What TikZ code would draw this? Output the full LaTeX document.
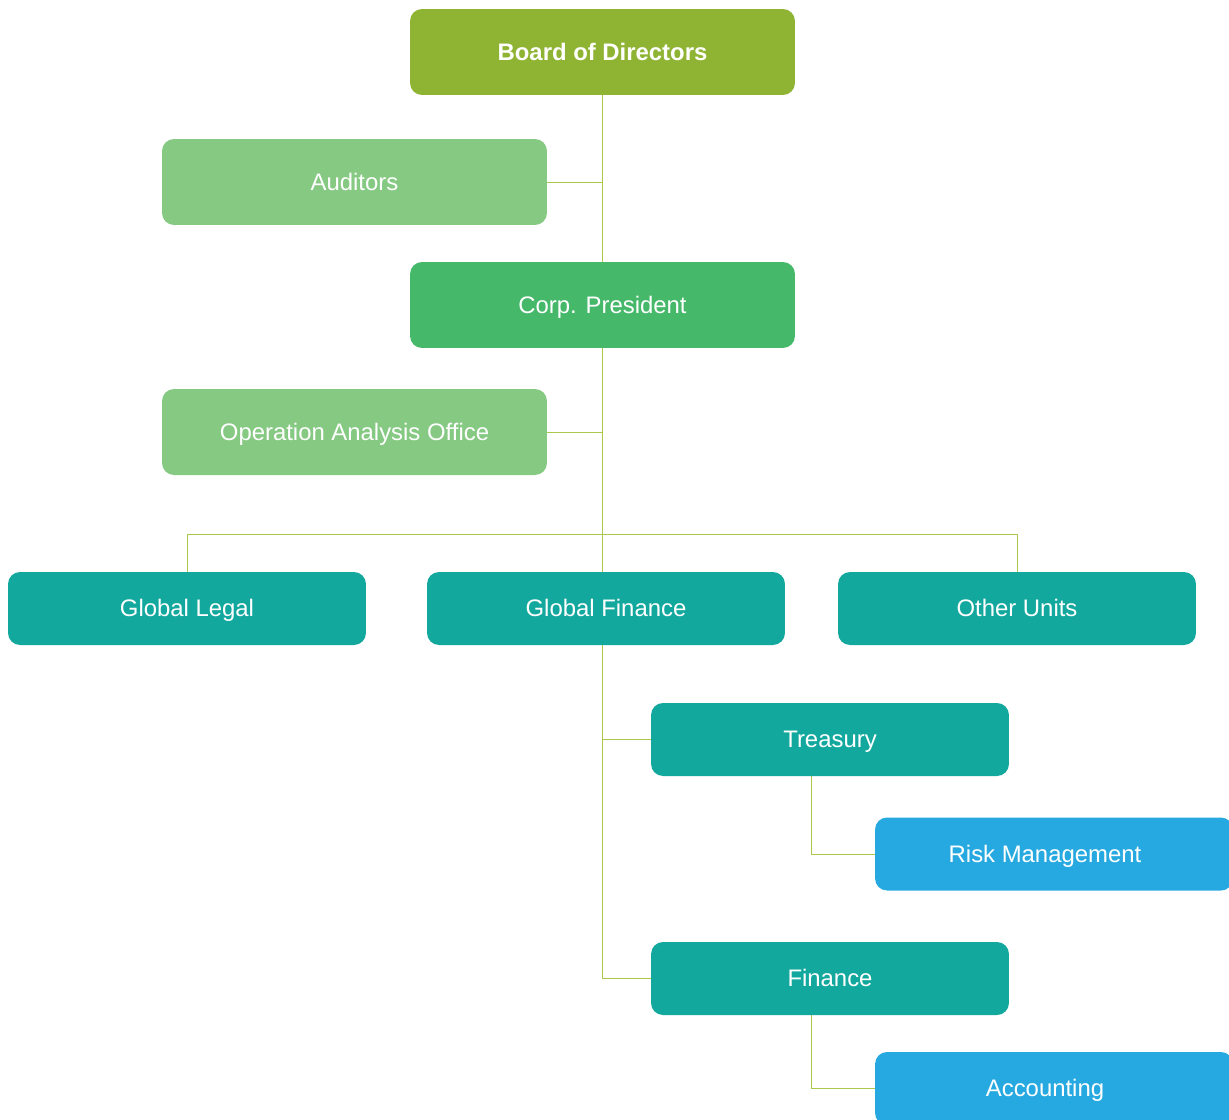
\documentclass[tikz,border=0pt]{standalone}
\usepackage{fontspec}
\setmainfont{Liberation Sans}
\usetikzlibrary{positioning,backgrounds}

\definecolor{boardgreen}{HTML}{8FB433}
\definecolor{lightgreen}{HTML}{86C983}
\definecolor{midgreen}{HTML}{45B86A}
\definecolor{teal}{HTML}{13A89E}
\definecolor{skyblue}{HTML}{26A9E0}
\definecolor{linegreen}{HTML}{A9C84C}

\begin{document}
\begin{tikzpicture}[
    x=0.02cm, y=-0.02cm,
    every node/.style={rounded corners=0.24cm, text=white, font=\fontsize{13.6}{16}\selectfont, align=center, inner sep=0pt, text height=11pt, text depth=1.5pt},
    topbox/.style={fill=boardgreen, minimum width=7.7cm, minimum height=1.72cm, font=\fontsize{13.6}{16}\selectfont\bfseries},
    staff/.style={fill=lightgreen, minimum width=7.7cm, minimum height=1.72cm},
    head/.style={fill=midgreen, minimum width=7.7cm, minimum height=1.72cm},
    unit/.style={fill=teal, minimum width=7.16cm, minimum height=1.46cm},
    subunit/.style={fill=skyblue, minimum width=7.16cm, minimum height=1.46cm},
    link/.style={draw=linegreen, line width=0.55pt}
]
\useasboundingbox (0,0) rectangle (1229,1119);

\node[topbox] (board) at (602.5,52) {Board of Directors};
\node[staff] (auditors) at (354.5,182) {Auditors};
\node[head] (corp) at (602.5,305) {Corp. President};
\node[staff] (oao) at (354.5,432) {Operation Analysis Office};

\node[unit] (legal) at (187,608.5) {Global Legal};
\node[unit] (gfin) at (606,608.5) {Global Finance};
\node[unit] (other) at (1017,608.5) {Other Units};

\node[unit] (treasury) at (830,739.5) {Treasury};
\node[subunit] (risk) at (1054,854) {Risk Management\hspace*{0.36cm}};
\node[unit] (finance) at (830,978.5) {Finance};
\node[subunit] (accounting) at (1054,1088.5) {Accounting\hspace*{0.36cm}};

\coordinate (bus) at (602,534);

\begin{scope}[on background layer]
\draw[link] (board) -- (corp);
\draw[link] (auditors.east) -- (auditors.east -| board);
\draw[link] (oao.east) -- (oao.east -| corp);
\draw[link] (legal.north) |- (bus) -| (other.north);
\draw[link] (corp.south) |- (finance.west);
\draw[link] (treasury.west -| corp) -- (treasury.west);
\draw[link] ([xshift=-0.38cm]treasury.south) |- (risk.west);
\draw[link] ([xshift=-0.38cm]finance.south) |- (accounting.west);
\end{scope}

\end{tikzpicture}
\end{document}
